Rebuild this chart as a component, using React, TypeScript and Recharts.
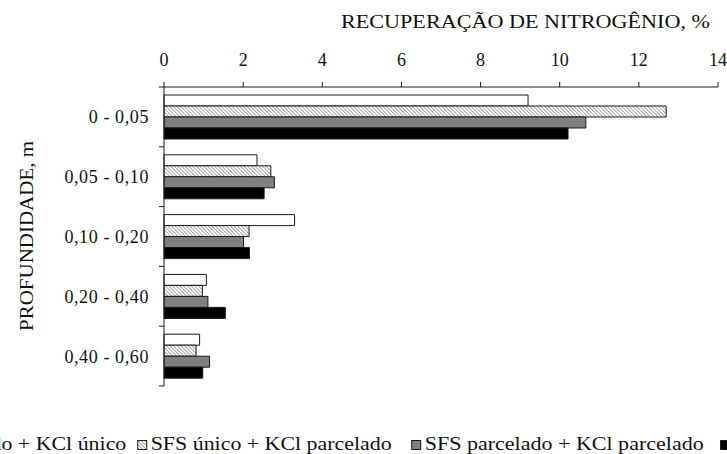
import React from 'react';
import { BarChart, Bar, XAxis, YAxis, Legend, Label } from 'recharts';

const depths = ['0 - 0,05', '0,05 - 0,10', '0,10 - 0,20', '0,20 - 0,40', '0,40 - 0,60'];
const sfsParcKclUnico = [9.2, 2.35, 3.3, 1.07, 0.9];
const sfsUnicoKclParc = [12.69, 2.7, 2.15, 0.97, 0.81];
const sfsParcKclParc = [10.66, 2.79, 2.01, 1.11, 1.15];
const sfsUnicoKclUnico = [10.21, 2.53, 2.16, 1.55, 0.98];
const xTicks = [0, 2, 4, 6, 8, 10, 12, 14];
const seriesNames = [
  'SFS parcelado + KCl único',
  'SFS único + KCl parcelado',
  'SFS parcelado + KCl parcelado',
  'SFS único + KCl único',
];
const xTitle = 'RECUPERAÇÃO DE NITROGÊNIO, %';
const yTitle = 'PROFUNDIDADE, m';

const data = depths.map((d, i) => ({
  depth: d,
  a: sfsParcKclUnico[i],
  b: sfsUnicoKclParc[i],
  c: sfsParcKclParc[i],
  d: sfsUnicoKclUnico[i],
}));

const W = 727;
const H = 454;
const M = { top: 47, right: 9, bottom: 68, left: 0 };
const XAXIS_H = 40;
const PLOT_H = H - M.top - M.bottom - XAXIS_H;
const BAND = PLOT_H / depths.length;
const FONT = '"Liberation Serif", "Times New Roman", serif';
const TEXT = '#111';
const STROKE = '#1a1a1a';

const fills = ['#ffffff', 'url(#hatch)', '#808080', '#000000'];
const keys = ['a', 'b', 'c', 'd'];

const legendPos = [
  { ix: -127.7, tx: -114.7, tl: 241 },
  { ix: 137.7, tx: 150.7, tl: 241 },
  { ix: 411.7, tx: 424.7, tl: 279 },
  { ix: 720.6, tx: 733.6, tl: 200 },
];

function DepthTick(props: any) {
  const { x, y, payload, index } = props;
  const axisX = x + 10 + 5;
  const half = BAND / 2;
  return (
    <g>
      <line x1={axisX - 5} x2={axisX} y1={y - half} y2={y - half} stroke={STROKE} />
      {index === depths.length - 1 && (
        <line x1={axisX - 5} x2={axisX} y1={y + half} y2={y + half} stroke={STROKE} />
      )}
      <text
        x={x}
        y={y}
        dy="0.36em"
        textAnchor="end"
        fontFamily={FONT}
        fontSize={18}
        fill={TEXT}
        letterSpacing={0.6}
      >
        {payload.value}
      </text>
    </g>
  );
}

function LegendContent() {
  return (
    <svg width={W} height={29} style={{ overflow: 'visible', display: 'block' }}>
      <defs>
        <pattern id="hatchL" patternUnits="userSpaceOnUse" width="2.6" height="2.6" patternTransform="rotate(-45)">
          <rect width="2.6" height="2.6" fill="#fff" />
          <line x1="0" y1="0" x2="0" y2="2.6" stroke="#444" strokeWidth="0.9" />
        </pattern>
      </defs>
      {seriesNames.map((n, i) => (
        <g key={n}>
          <rect
            x={legendPos[i].ix}
            y={15.5}
            width={9}
            height={9}
            fill={i === 1 ? 'url(#hatchL)' : fills[i]}
            stroke={STROKE}
          />
          <text
            x={legendPos[i].tx}
            y={25}
            fontFamily={FONT}
            fontSize={18}
            fill={TEXT}
            textLength={legendPos[i].tl}
            lengthAdjust="spacingAndGlyphs"
          >
            {n}
          </text>
        </g>
      ))}
    </svg>
  );
}

export default function App() {
  return (
    <div style={{ position: 'absolute', left: 0, top: 0, width: W, height: H, overflow: 'hidden', background: '#fff' }}>
      <BarChart
        width={W}
        height={H}
        data={data}
        layout="vertical"
        margin={M}
        barGap={0}
        barSize={11}
      >
        <defs>
          <pattern id="hatch" patternUnits="userSpaceOnUse" width="2.6" height="2.6" patternTransform="rotate(-45)">
            <rect width="2.6" height="2.6" fill="#fff" />
            <line x1="0" y1="0" x2="0" y2="2.6" stroke="#444" strokeWidth="0.9" />
          </pattern>
        </defs>
        <XAxis
          type="number"
          orientation="top"
          domain={[0, 14]}
          ticks={xTicks}
          interval={0}
          height={XAXIS_H}
          tickSize={5}
          tickMargin={16}
          axisLine={{ stroke: STROKE }}
          tickLine={{ stroke: STROKE }}
          tick={{ fill: TEXT, fontSize: 18, fontFamily: FONT }}
        >
          <Label
            content={() => (
              <text
                x={341}
                y={28}
                fontFamily={FONT}
                fontSize={18}
                fill={TEXT}
                textLength={369}
                lengthAdjust="spacingAndGlyphs"
              >
                {xTitle}
              </text>
            )}
          />
        </XAxis>
        <YAxis
          type="category"
          dataKey="depth"
          width={164}
          interval={0}
          tickSize={5}
          tickMargin={10}
          tickLine={false}
          axisLine={{ stroke: STROKE }}
          tick={<DepthTick />}
        >
          <Label
            content={() => (
              <text
                transform="translate(33,236) rotate(-90) scale(1,1.1)"
                x={-95}
                y={0}
                fontFamily={FONT}
                fontSize={18}
                fill={TEXT}
                textLength={190}
                lengthAdjust="spacingAndGlyphs"
              >
                {yTitle}
              </text>
            )}
          />
        </YAxis>
        <Legend
          layout="horizontal"
          verticalAlign="middle"
          align="center"
          wrapperStyle={{ left: 0, top: 425, width: W, height: 29 }}
          content={() => <LegendContent />}
        />
        {keys.map((k, i) => (
          <Bar
            key={k}
            dataKey={k}
            name={seriesNames[i]}
            fill={fills[i]}
            stroke={STROKE}
            strokeWidth={1}
            isAnimationActive={false}
          />
        ))}
      </BarChart>
    </div>
  );
}
